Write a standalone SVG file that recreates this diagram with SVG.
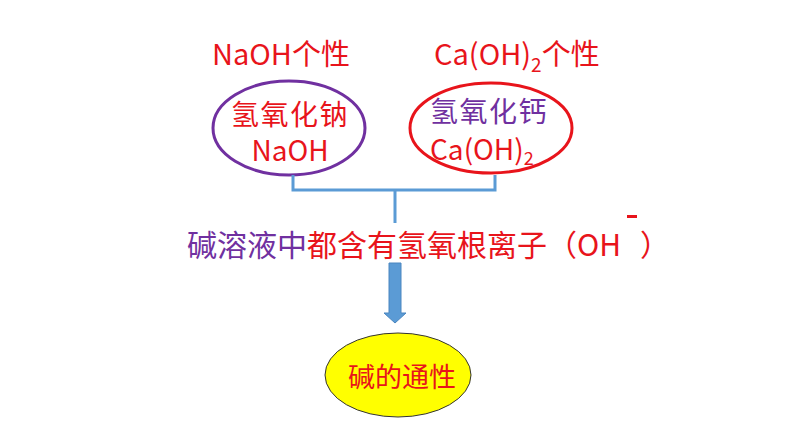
<svg xmlns="http://www.w3.org/2000/svg" width="794" height="447" viewBox="0 0 794 447">
<style>
text{font-family:"Noto Sans CJK SC","Noto Sans",sans-serif;}
.r{fill:#e8141b}
.p{fill:#7030a0}
.t{font-size:28px;text-anchor:middle}
</style>
<rect width="794" height="447" fill="#fff"/>
<g id="title-naoh"><text class="r" x="212" y="65" font-size="29">NaOH个性</text></g>
<g id="title-caoh"><text class="r" x="434" y="65" font-size="29">Ca(OH)<tspan font-size="19" dy="7">2</tspan><tspan dy="-7">个性</tspan></text></g>
<g id="naoh">
<ellipse cx="289" cy="128" rx="76" ry="47" fill="none" stroke="#7030a0" stroke-width="3"/>
<text class="r t" x="290" y="125" letter-spacing="1.5">氢氧化钠</text>
<text class="r t" x="290" y="161">NaOH</text>
</g>
<g id="caoh">
<ellipse cx="491" cy="128" rx="81" ry="45" fill="none" stroke="#e8141b" stroke-width="3"/>
<text class="p" x="430" y="122" font-size="28" letter-spacing="1.5">氢氧化钙</text>
<text class="r" x="430" y="160" font-size="28">Ca(OH)<tspan font-size="18" dy="5">2</tspan></text>
</g>
<g id="connectors">
<path d="M293 175 V190 H495 V175 M395 190 V223" fill="none" stroke="#5b9bd5" stroke-width="3"/>
<path d="M389 263 H401 V313 H406 L395 323 L384 313 H389 Z" fill="#5b9bd5" stroke="#4a86c0" stroke-width="1"/>
</g>
<g id="statement">
<text x="187" y="256" font-size="30"><tspan class="p">碱溶液中</tspan><tspan class="r">都含有氢氧根离子（OH</tspan></text>
<rect x="627" y="215" width="10" height="3" fill="#e8141b"/>
<text class="r" x="640" y="256" font-size="30">）</text>
</g>
<g id="common">
<ellipse cx="398" cy="375" rx="73" ry="42" fill="#ffff00" stroke="#333" stroke-width="1"/>
<text class="r" x="402" y="387" font-size="27" text-anchor="middle">碱的通性</text>
</g>
</svg>
